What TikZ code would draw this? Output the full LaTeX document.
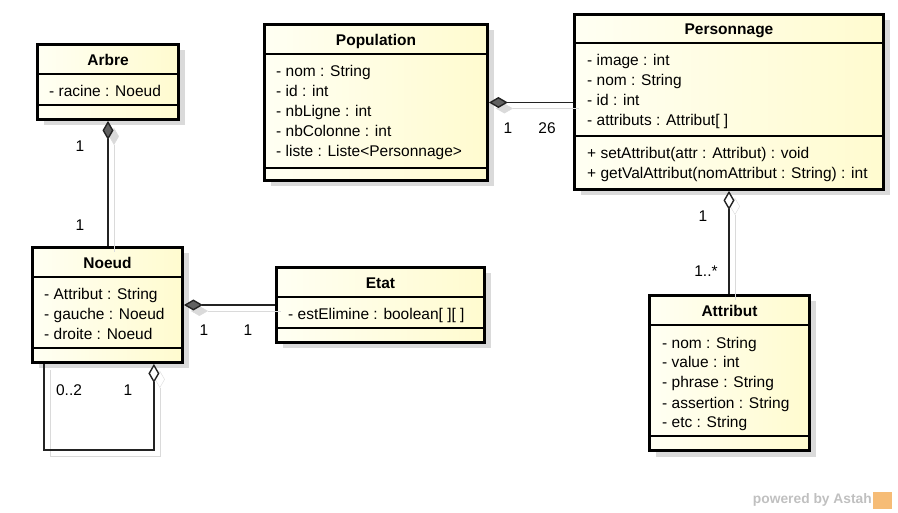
\documentclass[tikz,border=0pt]{standalone}
\usepackage{fontspec}
\setmainfont{Liberation Sans}
\usepackage{tikz}
\usetikzlibrary{arrows.meta,positioning,shadows}
\definecolor{ink}{RGB}{35,35,35}
\definecolor{creamleft}{RGB}{255,255,243}
\definecolor{creamright}{RGB}{255,251,207}
\definecolor{shadowgray}{RGB}{218,218,218}
\definecolor{markgray}{RGB}{192,192,192}
\definecolor{markorange}{RGB}{246,188,118}
\tikzset{
  classbox/.style={draw=black,line width=2.8pt,inner sep=0pt,left color=creamleft,right color=creamright,
    drop shadow={shadow xshift=6pt,shadow yshift=-6pt,fill=shadowgray,opacity=1}},
  sep/.style={line width=1.1pt,draw=black},
  title/.style={inner sep=0pt,anchor=base,font=\fontsize{15.5}{20}\selectfont\bfseries},
  members/.style={inner sep=0pt,anchor=base west,align=left,font=\fontsize{15.5}{20}\selectfont},
  mult/.style={inner sep=0pt,font=\fontsize{15.5}{20}\selectfont},
  compo/.style={line width=1.4pt,draw=ink,{Diamond[length=19pt,width=11pt,fill=black!62]}-,
    preaction={draw=shadowgray,{Diamond[length=19pt,width=11pt,fill=shadowgray]}-,transform canvas={shift={(6pt,-6pt)}}}},
  aggreg/.style={line width=1.4pt,draw=ink,{Diamond[length=19pt,width=11pt,fill=white]}-,
    preaction={draw=shadowgray,{Diamond[length=19pt,width=11pt,open]}-,transform canvas={shift={(6pt,-6pt)}}}}
}

\begin{document}
\begin{tikzpicture}[x=1pt,y=-1pt]
  \useasboundingbox (0,0) rectangle (898,513);
  % class boxes
  \node[classbox,minimum width=141pt,minimum height=75pt] (arbre) at (108,82) {};
  \node[classbox,minimum width=223pt,minimum height=156pt] (population) at (376,102.5) {};
  \node[classbox,minimum width=309pt,minimum height=175pt] (personnage) at (729,102) {};
  \node[classbox,minimum width=150pt,minimum height=115pt] (noeud) at (107.5,305) {};
  \node[classbox,minimum width=208pt,minimum height=75pt] (etat) at (380.5,305) {};
  \node[classbox,minimum width=160pt,minimum height=155pt] (attribut) at (729.5,373) {};
  \draw[sep] (arbre.west |- 0,74) -- (arbre.east |- 0,74);
  \draw[sep] (arbre.west |- 0,105) -- (arbre.east |- 0,105);
  \draw[sep] (population.west |- 0,54) -- (population.east |- 0,54);
  \draw[sep] (population.west |- 0,168) -- (population.east |- 0,168);
  \draw[sep] (personnage.west |- 0,43) -- (personnage.east |- 0,43);
  \draw[sep] (personnage.west |- 0,136) -- (personnage.east |- 0,136);
  \draw[sep] (noeud.west |- 0,277) -- (noeud.east |- 0,277);
  \draw[sep] (noeud.west |- 0,348) -- (noeud.east |- 0,348);
  \draw[sep] (etat.west |- 0,297) -- (etat.east |- 0,297);
  \draw[sep] (etat.west |- 0,328) -- (etat.east |- 0,328);
  \draw[sep] (attribut.west |- 0,325) -- (attribut.east |- 0,325);
  \draw[sep] (attribut.west |- 0,436) -- (attribut.east |- 0,436);
  % names and members (base = last line)
  \node[title] (arbre-name) at (108,66) {Arbre};
  \node[members] (arbre-attrs) at (49,97) {- racine : Noeud};
  \node[title] (population-name) at (376,46) {Population};
  \node[members] (population-attrs) at (276,157) {- nom : String\\- id : int\\- nbLigne : int\\- nbColonne : int\\- liste : Liste<Personnage>};
  \node[title] (personnage-name) at (729,35) {Personnage};
  \node[members] (personnage-attrs) at (587,126) {- image : int\\- nom : String\\- id : int\\- attributs : Attribut[ ]};
  \node[members] (personnage-ops) at (587,179) {+ setAttribut(attr : Attribut) : void\\+ getValAttribut(nomAttribut : String) : int};
  \node[title] (noeud-name) at (107.5,269) {Noeud};
  \node[members] (noeud-attrs) at (44,340) {- Attribut : String\\- gauche : Noeud\\- droite : Noeud};
  \node[title] (etat-name) at (380.5,289) {Etat};
  \node[members] (etat-attrs) at (288,320) {- estElimine : boolean[ ][ ]};
  \node[title] (attribut-name) at (729.5,317) {Attribut};
  \node[members] (attribut-attrs) at (662,428) {- nom : String\\- value : int\\- phrase : String\\- assertion : String\\- etc : String};
  % associations
  \draw[compo] (arbre.south) -- (arbre.south |- noeud.north);
  \draw[compo] (population.east) -- (population.east -| personnage.west);
  \draw[compo] (noeud.east) -- (noeud.east -| etat.west);
  \draw[aggreg] (personnage.south) -- (personnage.south |- attribut.north);
  \coordinate (loop-whole) at ([xshift=-30pt]noeud.south east);
  \coordinate (loop-part) at ([xshift=13pt]noeud.south west);
  \draw[aggreg] (loop-whole) -- (loop-whole |- 0,450) -| (loop-part);
  \node[mult] (m-arbre) at (80,146) {1};
  \node[mult] (m-noeud) at (80,225) {1};
  \node[mult] (m-population) at (508,128) {1};
  \node[mult] (m-personnage) at (547,128) {26};
  \node[mult] (m-noeud-etat) at (204,330) {1};
  \node[mult] (m-etat) at (248,330) {1};
  \node[mult] (m-personnage-attr) at (703,216) {1};
  \node[mult] (m-attribut) at (706,271) {1..*};
  \node[mult] (m-enfants) at (69,390) {0..2};
  \node[mult] (m-parent) at (128,390) {1};
  % watermark
  \node[inner sep=0pt,anchor=east,text=markgray,font=\fontsize{13.8}{16}\selectfont\bfseries] (brand) at (872,500) {powered by Astah};
  \node[fill=markorange,minimum width=19pt,minimum height=17pt,inner sep=0pt,right=1pt of brand] (logo) {};
\end{tikzpicture}
\end{document}
